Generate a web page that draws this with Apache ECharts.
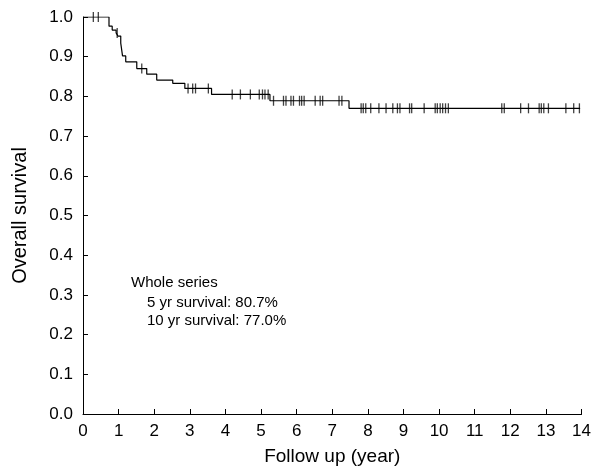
<!DOCTYPE html>
<html>
<head>
<meta charset="utf-8">
<script src="https://cdn.jsdelivr.net/npm/echarts@6/dist/echarts.min.js"></script>
<style>
  html, body { margin: 0; padding: 0; background: #fff; }
  #chart { width: 594px; height: 474px; }
</style>
</head>
<body>
<div id="chart"></div>
<script>
// Kaplan-Meier steps (year, survival)
const eventTimes = [0, 0.73, 0.82, 0.93, 0.98, 1.06, 1.11, 1.20, 1.51, 1.79, 2.07, 2.52, 2.86, 3.61, 5.25, 7.47, 13.96];
const survival = [1.0, 0.977, 0.967, 0.960, 0.952, 0.934, 0.902, 0.887, 0.870, 0.856, 0.841, 0.833, 0.820, 0.805, 0.789, 0.770, 0.770];

// censored observations (year)
const censorTimes = [0.29, 0.43, 0.96, 1.65, 2.95, 3.08, 3.16, 3.52, 4.19, 4.42, 4.70, 4.95, 5.04, 5.11, 5.20,
  5.35, 5.63, 5.70, 5.84, 5.91, 6.08, 6.14, 6.21, 6.52, 6.66, 6.73, 7.19, 7.27,
  7.81, 7.87, 7.94, 8.08, 8.31, 8.51, 8.70, 8.83, 8.90, 9.17, 9.23, 9.58,
  9.89, 9.95, 10.03, 10.10, 10.18, 10.26, 11.76, 11.83, 12.29, 12.51,
  12.81, 12.87, 12.94, 13.07, 13.56, 13.78, 13.94];

const xTicks = [0, 1, 2, 3, 4, 5, 6, 7, 8, 9, 10, 11, 12, 13, 14];
const yTicks = [0, 0.1, 0.2, 0.3, 0.4, 0.5, 0.6, 0.7, 0.8, 0.9, 1.0];

const notes = ['Whole series', '5 yr survival: 80.7%', '10 yr survival: 77.0%'];

const font = "'Liberation Sans', Arial, sans-serif";

// survival level at time t from the step function
function survAt(t) {
  let s = survival[0];
  for (let i = 0; i < eventTimes.length; i++) {
    if (eventTimes[i] <= t) s = survival[i];
  }
  return s;
}

const chart = echarts.init(document.getElementById('chart'));

const option = {
  animation: false,
  backgroundColor: '#fff',
  grid: { left: 83, right: 12, top: 17, bottom: 60 },
  xAxis: {
    type: 'value',
    min: xTicks[0],
    max: xTicks[xTicks.length - 1],
    interval: 1,
    name: 'Follow up (year)',
    nameLocation: 'middle',
    nameGap: 33,
    nameTextStyle: { fontFamily: font, fontSize: 19, color: '#000' },
    axisLine: { lineStyle: { color: '#000', width: 1 } },
    axisTick: { inside: true, length: 5, lineStyle: { color: '#000' } },
    axisLabel: { fontFamily: font, fontSize: 17, color: '#000', margin: 9 },
    splitLine: { show: false }
  },
  yAxis: {
    type: 'value',
    min: yTicks[0],
    max: yTicks[yTicks.length - 1],
    interval: 0.1,
    name: 'Overall survival',
    nameLocation: 'middle',
    nameGap: 53,
    nameTextStyle: { fontFamily: font, fontSize: 20, color: '#000' },
    axisLine: { show: true, lineStyle: { color: '#000', width: 1 } },
    axisTick: { show: true, inside: true, length: 5, lineStyle: { color: '#000' } },
    axisLabel: {
      fontFamily: font, fontSize: 17, color: '#000', margin: 10,
      formatter: v => v.toFixed(1)
    },
    splitLine: { show: false }
  },
  series: [
    {
      type: 'line',
      step: 'end',
      symbol: 'none',
      lineStyle: { color: '#000', width: 1.2 },
      data: eventTimes.map((t, i) => [t, survival[i]])
    },
    {
      type: 'scatter',
      symbol: 'rect',
      symbolSize: [1.3, 10],
      itemStyle: { color: '#111' },
      data: censorTimes.map(t => [t, survAt(t)])
    }
  ],
  graphic: [
    { type: 'text', left: 131, top: 275, style: { text: notes[0], font: '15px ' + font, fill: '#000' } },
    { type: 'text', left: 147, top: 295, style: { text: notes[1], font: '15px ' + font, fill: '#000' } },
    { type: 'text', left: 147, top: 313, style: { text: notes[2], font: '15px ' + font, fill: '#000' } }
  ]
};

option && chart.setOption(option);
</script>
</body>
</html>
